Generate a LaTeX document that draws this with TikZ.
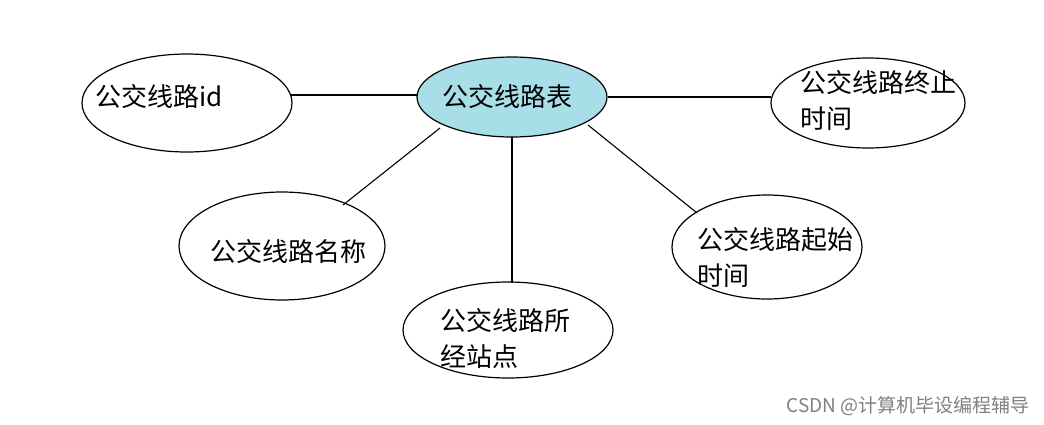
\documentclass[tikz,border=0pt]{standalone}
\usepackage{fontspec}
\setmainfont{Noto Sans CJK SC}
\begin{document}
\begin{tikzpicture}[x=1pt,y=-1pt,
  ell/.style={draw,line width=1.2pt},
  txt/.style={font=\fontsize{26}{36}\selectfont,align=left,anchor=west,inner sep=0pt},
  ln/.style={line width=1.1pt}]
\useasboundingbox (0,0) rectangle (1044,424);
\draw[ell,fill={rgb,255:red,168;green,222;blue,232}] (512,97) ellipse [x radius=95,y radius=40];
\draw[ell] (187,103) ellipse [x radius=105,y radius=49];
\draw[ell] (868,103) ellipse [x radius=97,y radius=45];
\draw[ell] (282,246) ellipse [x radius=103,y radius=54];
\draw[ell] (767,247) ellipse [x radius=95,y radius=52];
\draw[ell] (508,330) ellipse [x radius=105,y radius=48];
\coordinate (a1) at (290,95); \coordinate (a2) at (418,95);
\coordinate (b1) at (608,97); \coordinate (b2) at (771,97);
\coordinate (c1) at (440,128); \coordinate (c2) at (343,205);
\coordinate (d1) at (512,137); \coordinate (d2) at (512,283);
\coordinate (e1) at (588,125); \coordinate (e2) at (697,213);
\draw[ln] (a1)--(a2); \draw[ln] (b1)--(b2); \draw[ln] (c1)--(c2);
\draw[ln] (d1)--(d2); \draw[ln] (e1)--(e2);
\node[txt] (t0) at (442,97) {公交线路表};
\node[txt] (t1) at (95,97) {公交线路id};
\node[txt] (t2) at (800,100) {公交线路终止\\时间};
\node[txt] (t3) at (210,252) {公交线路名称};
\node[txt] (t4) at (697,257) {公交线路起始\\时间};
\node[txt] (t5) at (440,338) {公交线路所\\经站点};
\node[anchor=east,inner sep=0pt,text=gray,font=\fontsize{19}{22}\selectfont] (w) at (1030,406) {CSDN @计算机毕设编程辅导};
\end{tikzpicture}
\end{document}
